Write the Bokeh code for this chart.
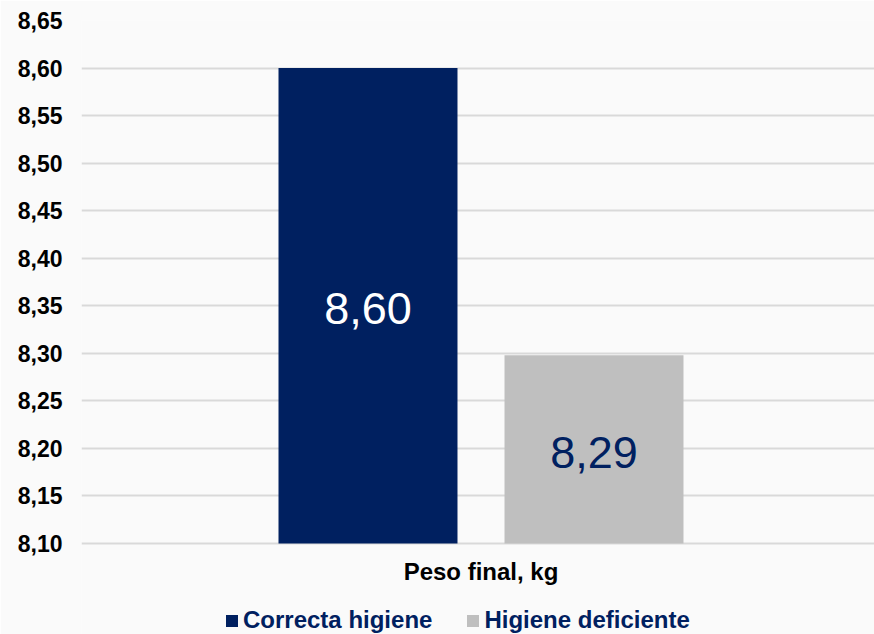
from bokeh.plotting import figure
from bokeh.models import Range1d, FixedTicker, Legend, LegendItem, ColumnDataSource, CustomJSTickFormatter
from bokeh.core.properties import value
from bokeh.embed import file_html
from bokeh.resources import INLINE

# ---- data ----
categories = ["Correcta higiene", "Higiene deficiente"]
weights = [8.60, 8.298]
value_labels = ["8,60", "8,29"]
bar_colors = ["#002060", "#BFBFBF"]
label_colors = ["#FFFFFF", "#002060"]
group_label = "Peso final, kg"
y_min = 8.10
y_max = 8.65
y_ticks = [8.10, 8.15, 8.20, 8.25, 8.30, 8.35, 8.40, 8.45, 8.50, 8.55, 8.60, 8.65]

FONT = "Liberation Sans"
BG = "#FAFAFA"

# frame extended below the value axis minimum to host category label and legend
p = figure(width=874, height=634, output_backend="svg", toolbar_location=None,
           x_range=Range1d(-1.2677, 2.2412), y_range=Range1d(8.0043, y_max),
           x_axis_location=None,
           min_border_left=81, min_border_right=0, min_border_top=20, min_border_bottom=0)
p.background_fill_color = BG
p.border_fill_color = BG
p.outline_line_color = None

renderers = []
for i, (cat, w, c) in enumerate(zip(categories, weights, bar_colors)):
    src = ColumnDataSource(dict(x=[i], top=[w]))
    r = p.vbar(x="x", top="top", bottom=y_min, width=0.792, source=src,
               fill_color=c, line_color=None)
    renderers.append(r)

lab_src = ColumnDataSource(dict(
    x=list(range(len(categories))),
    y=[(y_min + w) / 2 for w in weights],
    text=value_labels,
    color=label_colors,
))
p.text(x="x", y="y", text="text", source=lab_src, text_color="color",
       text_font=value(FONT), text_font_size="45px", text_align="center",
       text_baseline="middle", y_offset=3)

# category (group) label under the bars
grp_src = ColumnDataSource(dict(x=[(len(categories) - 1) / 2], y=[y_min], text=[group_label]))
p.text(x="x", y="y", text="text", source=grp_src, text_color="#000000",
       text_font=value(FONT), text_font_style="bold", text_font_size="24px",
       text_align="center", text_baseline="middle", y_offset=28)

# y axis
p.yaxis.ticker = FixedTicker(ticks=y_ticks)
p.yaxis.formatter = CustomJSTickFormatter(code="return tick.toFixed(2).replace('.', ',');")
p.yaxis.axis_line_color = None
p.yaxis.major_tick_line_color = None
p.yaxis.minor_tick_line_color = None
p.yaxis.major_tick_out = 0
p.yaxis.major_tick_in = 0
p.yaxis.minor_tick_out = 0
p.yaxis.major_label_text_font = FONT
p.yaxis.major_label_text_font_style = "bold"
p.yaxis.major_label_text_font_size = "23px"
p.yaxis.major_label_text_color = "#000000"
p.yaxis.major_label_standoff = 19

p.xgrid.grid_line_color = None
p.ygrid.grid_line_color = "#D9D9D9"
p.ygrid.grid_line_width = 2

legend = Legend(items=[LegendItem(label=cat, renderers=[r]) for cat, r in zip(categories, renderers)],
                orientation="horizontal", location=(143, 0))
legend.label_text_font = FONT
legend.label_text_font_style = "bold"
legend.label_text_font_size = "24px"
legend.label_text_color = "#002060"
legend.glyph_width = 15
legend.glyph_height = 15
legend.label_standoff = 4
legend.spacing = 33
legend.padding = 0
legend.margin = 0
legend.border_line_color = None
legend.background_fill_alpha = 0
p.add_layout(legend, "center")

open("out.html", "w").write(file_html(p, INLINE))
